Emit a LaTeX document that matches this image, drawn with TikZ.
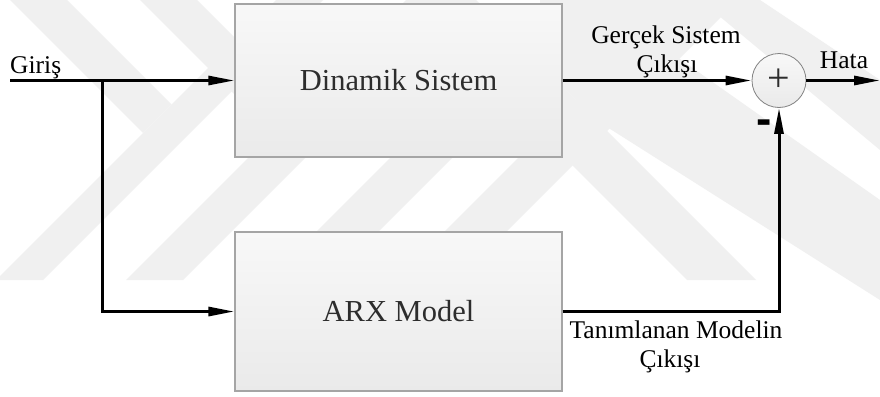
\documentclass[tikz,border=0pt]{standalone}
\usepackage{fontspec}
\setmainfont{Liberation Serif}
\newfontfamily\signfont{Liberation Sans}
\usetikzlibrary{arrows.meta}

\definecolor{wmark}{RGB}{240,240,240}
\definecolor{boxedge}{RGB}{165,165,165}
\definecolor{boxtop}{RGB}{248,248,248}
\definecolor{boxbot}{RGB}{234,234,234}
\definecolor{boxtext}{RGB}{45,45,45}
\definecolor{sumedge}{RGB}{130,130,130}

\begin{document}
\begin{tikzpicture}[x=1pt, y=-1pt,
  blockbox/.style={draw=boxedge, line width=1.2pt, top color=boxtop, bottom color=boxbot,
    minimum width=327pt, inner sep=0pt, text=boxtext,
    font=\fontsize{30.5}{36}\selectfont},
  sumnode/.style={circle, draw=sumedge, line width=0.8pt, top color=boxtop, bottom color=boxbot,
    minimum size=54pt, inner sep=0pt, text=boxtext, font=\fontsize{40}{44}\selectfont},
  lbl/.style={inner sep=0pt, anchor=base, font=\fontsize{25.5}{30}\selectfont},
  sig/.style={line width=3pt, -{Triangle[length=26pt,width=9pt]}},
  wire/.style={line width=3pt}]

% page
\fill[white] (0,0) rectangle (880,396);
\useasboundingbox (0,0) rectangle (880,396);

% faint background emblem
\begin{scope}
  \clip (0,0) rectangle (880,396);
  % left chevrons
  \fill[wmark] (10,0) -- (67,0) -- (171.5,104.5) -- (143,133) -- cycle;
  \fill[wmark] (276,0) -- (323,0) -- (43,280) -- (-4,280) -- cycle;
  \fill[wmark] (140,0) -- (197,0) -- (301.5,104.5) -- (273,133) -- cycle;
  \fill[wmark] (406,0) -- (463,0) -- (183,280) -- (126,280) -- cycle;
  \fill[wmark] (548,0) -- (610,0) -- (330,280) -- (268,280) -- cycle;
  % right roof
  \fill[wmark] (676,0) -- (738,0) -- (458,280) -- (396,280) -- cycle;
  \fill[wmark] (540,0) -- (700,0) -- (700,40) -- (660,45) -- (596,120) -- (540,64) -- cycle;
  \fill[wmark] (596,120) -- (660,45) -- (880,200) -- (880,300) -- cycle;
  \fill[wmark] (700,0) -- (760,0) -- (880,80) -- (880,150) -- cycle;
  \fill[wmark] (407,0) -- (476,0) -- (756,280) -- (687,280) -- cycle;
\end{scope}

% blocks
\node[blockbox, minimum height=153pt] (dyn) at (398.5,80.5) {Dinamik Sistem};
\node[blockbox, minimum height=159pt] (arx) at (398.5,311.5) {ARX Model};
\node[sumnode] (sum) at (779,80.5) {+};

% signal labels
\node[lbl, anchor=base west] (inlbl) at (10,74) {Giriş};
\node[lbl] (reallbl) at (666,44) {Gerçek Sistem};
\node[lbl] (reallbl2) at (667,72) {Çıkışı};
\node[lbl] (errlbl) at (844,69) {Hata};
\node[lbl] (modlbl) at (676,338) {Tanımlanan Modelin};
\node[lbl] (modlbl2) at (670,367) {Çıkışı};
\node[inner sep=0pt, font=\signfont\bfseries\fontsize{46}{50}\selectfont] (neg) at (764,127) {-};

% connectors
\coordinate (src) at (10,80.5);
\coordinate (split) at (102,80.5);
\coordinate (dst) at (880,80.5);
\draw[sig] (src) -- (dyn.west);
\draw[sig] (split) |- (arx.west);
\draw[sig] (dyn.east) -- (sum.west);
\draw[sig] (sum.east) -- (dst);
\draw[sig] (arx.east) -| (sum.south);
\end{tikzpicture}
\end{document}
